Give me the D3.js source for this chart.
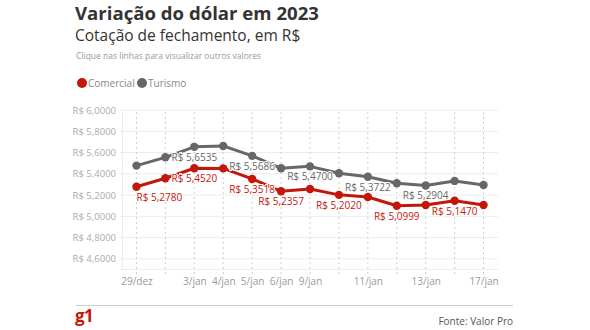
<!DOCTYPE html>
<html><head><meta charset="utf-8">
<script src="https://cdn.jsdelivr.net/npm/d3@7"></script>
<style>
html,body{margin:0;padding:0;background:#fff;}
svg{display:block;font-family:"Open Sans",sans-serif;}
</style></head>
<body><svg id="c" width="590" height="330"></svg>
<script>
const dates = ["29/dez","2/jan","3/jan","4/jan","5/jan","6/jan","9/jan","10/jan","11/jan","12/jan","13/jan","16/jan","17/jan"];
const shownTicks = ["29/dez","3/jan","4/jan","5/jan","6/jan","9/jan","11/jan","13/jan","17/jan"];
const comercial = [5.2780,5.3580,5.4520,5.4510,5.3518,5.2357,5.2570,5.2020,5.1820,5.0999,5.1070,5.1470,5.1060];
const turismo = [5.4770,5.5550,5.6535,5.6620,5.5686,5.4520,5.4700,5.4050,5.3722,5.3110,5.2904,5.3330,5.2950];
const comercialLabelIdx = [0,2,4,5,7,9,11];
const turismoLabelIdx = [2,4,6,8,10];
const yTicks = [4.6,4.8,5.0,5.2,5.4,5.6,5.8,6.0];

const svg = d3.select("#c");
const red = "#c4170c", gray = "#676767";
const fmt = v => "R$ " + v.toFixed(4).replace(".", ",");

// header
svg.append("text").attr("x",75).attr("y",20).attr("font-size",18.6).attr("font-weight",700).attr("fill","#333").text("Variação do dólar em 2023");
svg.append("text").attr("x",75).attr("y",41).attr("font-size",15.5).attr("fill","#333").text("Cotação de fechamento, em R$");
svg.append("text").attr("x",76).attr("y",59).attr("font-size",8.5).attr("fill","#9a9a9a").text("Clique nas linhas para visualizar outros valores");
const legend = [{n:"Comercial",c:red,x:82},{n:"Turismo",c:gray,x:142}];
legend.forEach(l=>{
  svg.append("circle").attr("cx",l.x).attr("cy",83).attr("r",5).attr("fill",l.c);
  svg.append("text").attr("x",l.x+6).attr("y",86.5).attr("font-size",10).attr("fill","#888").text(l.n);
});

const x = d3.scalePoint().domain(dates).range([122,498]).padding(0.5);
const y = d3.scaleLinear().domain([4.5,6.0]).range([269.5,110]);

// plot frame/grid
const g = svg.append("g");
g.selectAll(".hg").data(yTicks.concat([4.5])).join("line")
  .attr("x1",120).attr("x2",498).attr("y1",d=>y(d)).attr("y2",d=>y(d))
  .attr("stroke","#ececec").attr("stroke-width",1);
g.append("line").attr("x1",122.5).attr("x2",122.5).attr("y1",110).attr("y2",y(4.5)).attr("stroke","#ececec");
g.selectAll(".vg").data(dates).join("line")
  .attr("x1",d=>x(d)).attr("x2",d=>x(d)).attr("y1",112).attr("y2",y(4.5)+5)
  .attr("stroke","#cdcdcd").attr("stroke-dasharray","2,3");

const yAxis = d3.axisLeft(y).tickValues(yTicks).tickSize(0).tickPadding(0).tickFormat(fmt);
const ya = svg.append("g").attr("transform","translate(116,0)").call(yAxis);
ya.select(".domain").remove();
ya.selectAll("text").attr("font-size",9.5).attr("fill","#ababab").attr("font-family","'Open Sans',sans-serif");

const xAxis = d3.axisBottom(x).tickValues(shownTicks).tickSize(0).tickPadding(0);
const xa = svg.append("g").attr("transform",`translate(0,${y(4.5)+8})`).call(xAxis);
xa.select(".domain").remove();
xa.selectAll("text").attr("font-size",10).attr("fill","#9a9a9a").attr("font-family","'Open Sans',sans-serif");

// lines
const line = d3.line().x((d,i)=>x(dates[i])).y(d=>y(d));
[[turismo,gray],[comercial,red]].forEach(([s,c])=>{
  svg.append("path").datum(s).attr("d",line).attr("fill","none").attr("stroke",c).attr("stroke-width",3).attr("stroke-linejoin","round");
  svg.append("g").selectAll("circle").data(s).join("circle")
    .attr("cx",(d,i)=>x(dates[i])).attr("cy",d=>y(d)).attr("r",4.2).attr("fill",c);
});

// value labels
function labels(s, idx, c){
  svg.append("g").selectAll("text").data(idx).join("text")
    .attr("x",i=>x(dates[i]))
    .attr("y",i=>y(s[i])+14)
    .attr("text-anchor",i=>i===0?"start":"middle")
    .attr("font-size",10).attr("fill",c)
    .attr("stroke","#fff").attr("stroke-width",2).attr("paint-order","stroke")
    .text(i=>fmt(s[i]));
}
labels(turismo, turismoLabelIdx, gray);
labels(comercial, comercialLabelIdx, red);

// footer
svg.append("line").attr("x1",76).attr("x2",513).attr("y1",305.5).attr("y2",305.5).attr("stroke","#cfcfcf");
svg.append("text").attr("x",75).attr("y",322).attr("font-size",17).attr("font-weight",700).attr("fill",red).attr("letter-spacing",-0.5).text("g1");
svg.append("text").attr("x",513).attr("y",325).attr("text-anchor","end").attr("font-size",10).attr("fill","#555").text("Fonte: Valor Pro");
</script></body></html>
